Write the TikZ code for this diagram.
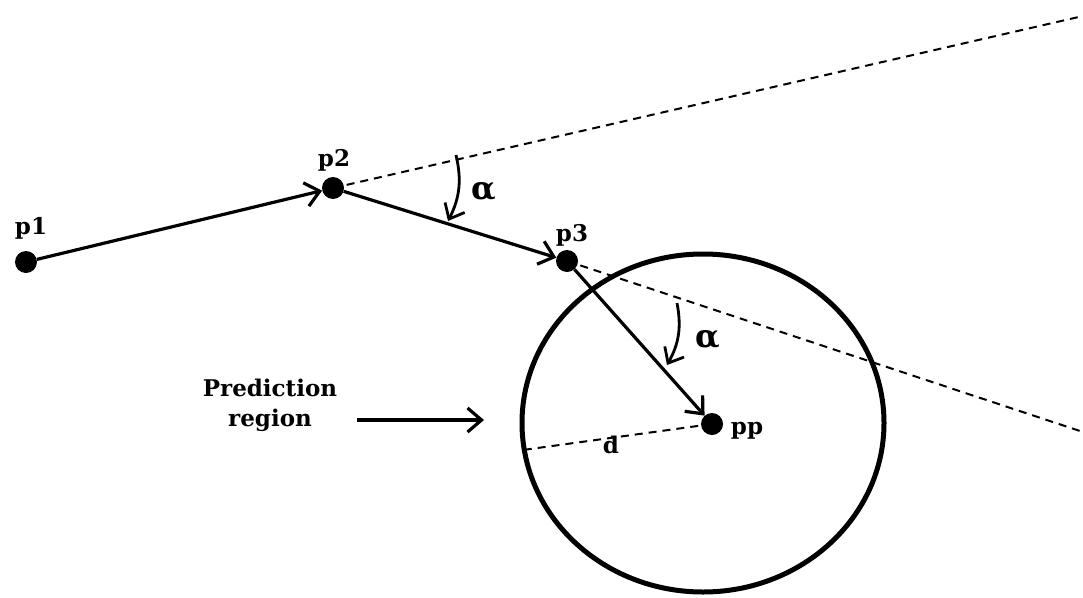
\documentclass[tikz,border=0pt]{standalone}
\usepackage{fontspec}
\setmainfont{DejaVu Serif}
\usetikzlibrary{arrows.meta,shapes.geometric}
\tikzset{
  dot/.style={circle,fill=black,inner sep=0pt,minimum size=22pt},
  lbl/.style={font=\fontsize{23}{27}\selectfont\bfseries,inner sep=0pt},
  alab/.style={font=\fontsize{32}{36}\selectfont\bfseries,inner sep=0pt},
  vec/.style={line width=3.2pt,-{Straight Barb[length=14pt,width=24pt]}},
  ext/.style={line width=2pt,dash pattern=on 8pt off 6pt},
  angarr/.style={line width=2.8pt,-{Straight Barb[length=13pt,width=22pt]}},
}
\begin{document}
\begin{tikzpicture}[x=1pt,y=-1pt]
\useasboundingbox (0,0) rectangle (1083,597);
% region
\node[draw,ellipse,line width=5pt,minimum width=362pt,minimum height=338pt,inner sep=0pt] (reg) at (703,423) {};
% points
\node[dot] (p1) at (26,262) {};
\node[dot] (p2) at (333,188) {};
\node[dot] (p3) at (567,261) {};
\node[dot] (pp) at (712,424) {};
% extension end points
\coordinate (e1) at (1083,16);
\coordinate (e2) at (1083,432);
\coordinate (dl) at (523,450);
% dashed lines
\draw[ext] (p2.center) -- (e1);
\draw[ext] (p3.center) -- (e2);
\draw[ext] (pp.center) -- (dl);
% vectors
\draw[vec] (p1) -- (p2);
\draw[vec] (p2) -- (p3);
\draw[vec] (p3) -- (pp);
% angle arrows
\coordinate (a1s) at (456,155);
\coordinate (a1e) at (448,221);
\coordinate (a2s) at (677,303);
\coordinate (a2e) at (667,365);
\draw[angarr] (a1s) to[bend left=20] (a1e);
\draw[angarr] (a2s) to[bend left=20] (a2e);
% labels
\node[lbl] (lp1) at (31,228) {p1};
\node[lbl] (lp2) at (334,160) {p2};
\node[lbl] (lp3) at (572,235) {p3};
\node[lbl] (lpp) at (747,431) {pp};
\node[lbl] (ld) at (611,445) {d};
\node[alab] (al1) at (484,192) {α};
\node[alab] (al2) at (708,340) {α};
% prediction region
\node[lbl,align=center,font=\fontsize{23}{30}\selectfont\bfseries] (pr) at (270,405) {Prediction\\region};
\coordinate (pra) at (357,420);
\coordinate (prb) at (484,420);
\draw[vec] (pra) -- (prb);
\end{tikzpicture}
\end{document}
